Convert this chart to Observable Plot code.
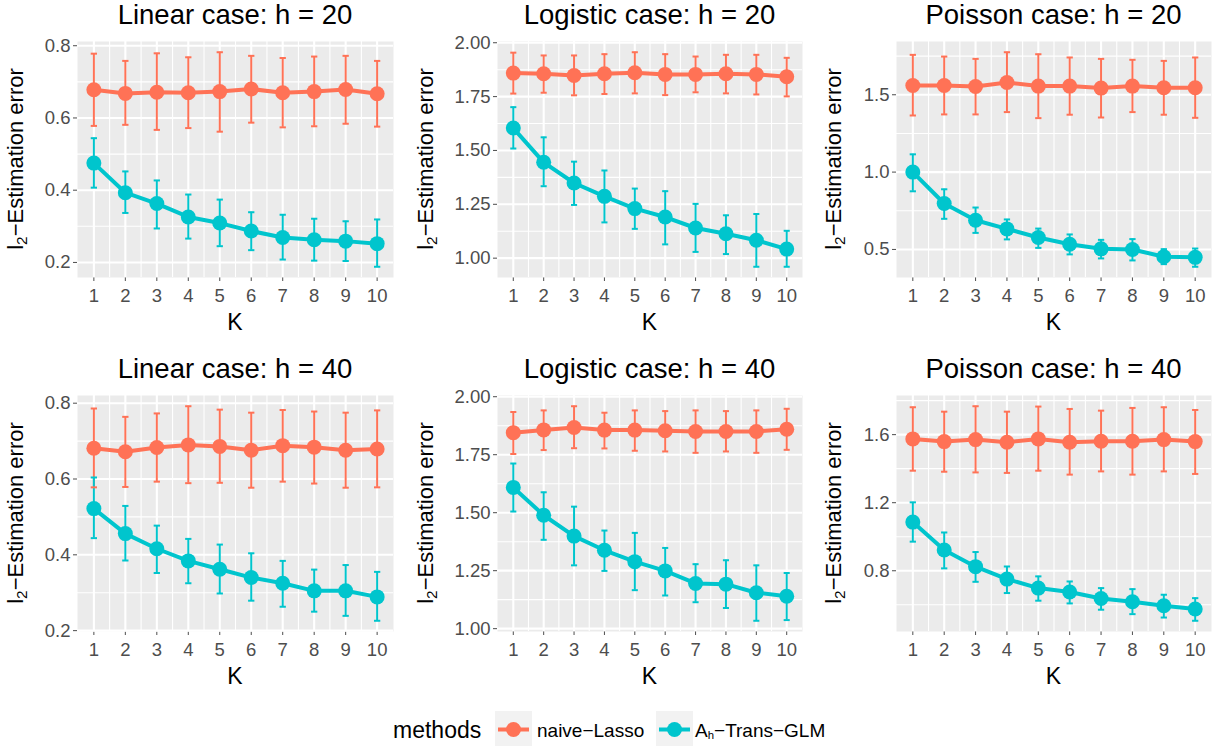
<!DOCTYPE html>
<html><head><meta charset="utf-8">
<script src="https://cdn.jsdelivr.net/npm/d3@7"></script>
<script src="https://cdn.jsdelivr.net/npm/@observablehq/plot@0.6"></script>
<style>
body{margin:0;background:#fff;font-family:"Liberation Sans",Arial,Helvetica,sans-serif;}
#root{position:relative;width:1215px;height:746px;overflow:hidden;background:#fff;}
.abs{position:absolute;white-space:nowrap;color:#000;line-height:1;}
.sub{font-size:0.7em;vertical-align:-0.28em;line-height:0;}
</style></head><body><div id="root"></div>
<script>
// ---------- data ----------
const K = [1, 2, 3, 4, 5, 6, 7, 8, 9, 10];
const methods = ["naive−Lasso", "Aₕ−Trans−GLM"];
const colors = ["#FF7256", "#00C5CD"];
const titles = ["Linear case: h = 20", "Logistic case: h = 20", "Poisson case: h = 20",
                "Linear case: h = 40", "Logistic case: h = 40", "Poisson case: h = 40"];
const linTicks = [0.2, 0.4, 0.6, 0.8];
const logTicks = [1.00, 1.25, 1.50, 1.75, 2.00];
const pois20Ticks = [0.5, 1.0, 1.5];
const pois40Ticks = [0.8, 1.2, 1.6];

const lin20NaiveMean = [0.678, 0.668, 0.671, 0.670, 0.673, 0.680, 0.670, 0.673, 0.679, 0.667];
const lin20NaiveLo   = [0.578, 0.581, 0.567, 0.572, 0.562, 0.587, 0.574, 0.577, 0.584, 0.576];
const lin20NaiveHi   = [0.778, 0.758, 0.779, 0.768, 0.782, 0.772, 0.766, 0.770, 0.772, 0.758];
const lin20TransMean = [0.475, 0.393, 0.363, 0.326, 0.309, 0.287, 0.269, 0.263, 0.259, 0.252];
const lin20TransLo   = [0.407, 0.337, 0.294, 0.266, 0.245, 0.234, 0.208, 0.205, 0.204, 0.188];
const lin20TransHi   = [0.544, 0.452, 0.427, 0.388, 0.374, 0.339, 0.332, 0.321, 0.314, 0.319];

const log20NaiveMean = [1.859, 1.856, 1.848, 1.856, 1.861, 1.853, 1.853, 1.856, 1.853, 1.842];
const log20NaiveLo   = [1.764, 1.768, 1.756, 1.762, 1.765, 1.757, 1.770, 1.765, 1.760, 1.751];
const log20NaiveHi   = [1.954, 1.941, 1.941, 1.947, 1.956, 1.947, 1.936, 1.944, 1.944, 1.930];
const log20TransMean = [1.604, 1.445, 1.349, 1.287, 1.230, 1.191, 1.140, 1.113, 1.083, 1.042];
const log20TransLo   = [1.509, 1.334, 1.247, 1.166, 1.136, 1.064, 1.029, 1.019, 0.960, 0.960];
const log20TransHi   = [1.701, 1.561, 1.448, 1.407, 1.323, 1.311, 1.252, 1.199, 1.205, 1.127];

const pois20NaiveMean = [1.560, 1.560, 1.553, 1.579, 1.556, 1.556, 1.543, 1.556, 1.545, 1.545];
const pois20NaiveLo   = [1.366, 1.373, 1.373, 1.388, 1.349, 1.371, 1.353, 1.388, 1.371, 1.351];
const pois20NaiveHi   = [1.758, 1.747, 1.732, 1.775, 1.762, 1.741, 1.732, 1.726, 1.719, 1.741];
const pois20TransMean = [1.000, 0.797, 0.689, 0.633, 0.577, 0.534, 0.504, 0.500, 0.453, 0.449];
const pois20TransLo   = [0.876, 0.698, 0.607, 0.565, 0.510, 0.468, 0.442, 0.429, 0.405, 0.388];
const pois20TransHi   = [1.115, 0.889, 0.771, 0.694, 0.635, 0.597, 0.562, 0.567, 0.502, 0.506];

const lin40NaiveMean = [0.681, 0.672, 0.683, 0.690, 0.686, 0.676, 0.688, 0.684, 0.676, 0.679];
const lin40NaiveLo   = [0.578, 0.579, 0.593, 0.589, 0.590, 0.577, 0.593, 0.588, 0.577, 0.578];
const lin40NaiveHi   = [0.786, 0.764, 0.773, 0.792, 0.783, 0.775, 0.782, 0.778, 0.775, 0.781];
const lin40TransMean = [0.522, 0.456, 0.416, 0.384, 0.362, 0.340, 0.325, 0.305, 0.305, 0.289];
const lin40TransLo   = [0.444, 0.385, 0.352, 0.325, 0.298, 0.279, 0.263, 0.250, 0.239, 0.226];
const lin40TransHi   = [0.604, 0.529, 0.477, 0.442, 0.427, 0.404, 0.384, 0.361, 0.373, 0.355];

const log40NaiveMean = [1.845, 1.857, 1.867, 1.856, 1.856, 1.853, 1.850, 1.850, 1.850, 1.860];
const log40NaiveLo   = [1.753, 1.770, 1.778, 1.777, 1.767, 1.764, 1.758, 1.764, 1.758, 1.771];
const log40NaiveHi   = [1.934, 1.941, 1.959, 1.931, 1.941, 1.938, 1.941, 1.938, 1.941, 1.948];
const log40TransMean = [1.609, 1.489, 1.399, 1.338, 1.289, 1.249, 1.195, 1.192, 1.155, 1.140];
const log40TransLo   = [1.505, 1.383, 1.273, 1.249, 1.166, 1.143, 1.114, 1.089, 1.034, 1.037];
const log40TransHi   = [1.712, 1.588, 1.526, 1.423, 1.413, 1.348, 1.278, 1.295, 1.273, 1.240];

const pois40NaiveMean = [1.575, 1.559, 1.571, 1.555, 1.575, 1.555, 1.561, 1.561, 1.571, 1.559];
const pois40NaiveLo   = [1.388, 1.382, 1.378, 1.375, 1.388, 1.365, 1.384, 1.365, 1.384, 1.369];
const pois40NaiveHi   = [1.761, 1.735, 1.767, 1.735, 1.765, 1.751, 1.741, 1.757, 1.761, 1.745];
const pois40TransMean = [1.086, 0.922, 0.824, 0.751, 0.698, 0.675, 0.637, 0.618, 0.594, 0.575];
const pois40TransLo   = [0.971, 0.814, 0.735, 0.669, 0.624, 0.608, 0.571, 0.545, 0.525, 0.506];
const pois40TransHi   = [1.202, 1.025, 0.910, 0.825, 0.767, 0.737, 0.698, 0.692, 0.659, 0.639];

// ---------- panel specs (built from the arrays) ----------
const panels = [
  {series: [[lin20NaiveMean, lin20NaiveLo, lin20NaiveHi], [lin20TransMean, lin20TransLo, lin20TransHi]], ticks: linTicks, fmt: ".1f"},
  {series: [[log20NaiveMean, log20NaiveLo, log20NaiveHi], [log20TransMean, log20TransLo, log20TransHi]], ticks: logTicks, fmt: ".2f"},
  {series: [[pois20NaiveMean, pois20NaiveLo, pois20NaiveHi], [pois20TransMean, pois20TransLo, pois20TransHi]], ticks: pois20Ticks, fmt: ".1f"},
  {series: [[lin40NaiveMean, lin40NaiveLo, lin40NaiveHi], [lin40TransMean, lin40TransLo, lin40TransHi]], ticks: linTicks, fmt: ".1f"},
  {series: [[log40NaiveMean, log40NaiveLo, log40NaiveHi], [log40TransMean, log40TransLo, log40TransHi]], ticks: logTicks, fmt: ".2f"},
  {series: [[pois40NaiveMean, pois40NaiveLo, pois40NaiveHi], [pois40TransMean, pois40TransLo, pois40TransHi]], ticks: pois40Ticks, fmt: ".1f"}
];

// ---------- layout ----------
const colLeft = [0, 405, 810];
const frameLeft = [77, 497, 896];
const frameRight = [393, 802, 1211];
const yLabelX = [16, 426, 834];
const rowTop = [0, 354];
const SVG_W = 405, SVG_H = 310, MT = 41, MB = 33;
const FONT = '"Liberation Sans", Arial, Helvetica, sans-serif';

const root = document.getElementById("root");
function addText(html, left, top, size, extra = "") {
  const d = document.createElement("div");
  d.className = "abs";
  d.style.cssText += `left:${left}px;top:${top}px;font-size:${size}px;${extra}`;
  d.innerHTML = html;
  root.appendChild(d);
  return d;
}

panels.forEach((p, idx) => {
  const col = idx % 3, row = Math.floor(idx / 3);
  const rows = [];
  p.series.forEach(([mean, lo, hi], mi) => {
    K.forEach((k, i) => rows.push({K: k, method: methods[mi], mean: mean[i], lo: lo[i], hi: hi[i]}));
  });
  const lo = d3.min(rows, d => d.lo), hi = d3.max(rows, d => d.hi);
  const pad = (hi - lo) * 0.05;
  const dom = [lo - pad, hi + pad];
  const step = p.ticks[1] - p.ticks[0];
  const minorY = [];
  for (let v = p.ticks[0] - step / 2; v < dom[1]; v += step) if (v > dom[0]) minorY.push(v);
  const minorX = K.slice(0, -1).map(k => k + 0.5);

  const chart = Plot.plot({
    width: SVG_W, height: SVG_H,
    marginLeft: frameLeft[col] - colLeft[col],
    marginRight: colLeft[col] + SVG_W - frameRight[col],
    marginTop: MT, marginBottom: MB,
    style: {fontFamily: FONT, fontSize: "18.5px", color: "#4D4D4D", background: "transparent", overflow: "visible"},
    x: {domain: [0.48, 10.52], ticks: K, tickFormat: d => String(d), tickSize: 4, tickPadding: 7, label: null},
    y: {domain: dom, ticks: p.ticks, tickFormat: d3.format(p.fmt), tickSize: 4, tickPadding: 3, label: null},
    color: {domain: methods, range: colors},
    marks: [
      Plot.frame({fill: "#EBEBEB", stroke: "none"}),
      Plot.ruleY(minorY, {stroke: "white", strokeWidth: 1.1}),
      Plot.ruleX(minorX, {stroke: "white", strokeWidth: 1.1}),
      Plot.ruleY(p.ticks, {stroke: "white", strokeWidth: 2.1}),
      Plot.ruleX(K, {stroke: "white", strokeWidth: 2.1}),
      Plot.ruleX(rows, {x: "K", y1: "lo", y2: "hi", stroke: "method", strokeWidth: 2}),
      Plot.link(rows, {x1: d => d.K - 0.1, x2: d => d.K + 0.1, y1: "hi", y2: "hi", stroke: "method", strokeWidth: 2}),
      Plot.link(rows, {x1: d => d.K - 0.1, x2: d => d.K + 0.1, y1: "lo", y2: "lo", stroke: "method", strokeWidth: 2}),
      Plot.line(rows, {x: "K", y: "mean", z: "method", stroke: "method", strokeWidth: 4}),
      Plot.dot(rows, {x: "K", y: "mean", fill: "method", r: 7.5})
    ]
  });
  chart.style.position = "absolute";
  chart.style.left = colLeft[col] + "px";
  chart.style.top = rowTop[row] + "px";
  root.appendChild(chart);

  const cx = (frameLeft[col] + frameRight[col]) / 2;
  addText(titles[idx], cx, rowTop[row] + 14.5, 27.5, "transform:translate(-50%,-50%);");
  addText("K", cx, rowTop[row] + 322, 23, "transform:translate(-50%,-50%);");
  addText('l<span class="sub">2</span>−Estimation error', yLabelX[col], rowTop[row] + (MT + SVG_H - MB) / 2, 22,
          "transform:translate(-50%,-50%) rotate(-90deg);");
});

// ---------- legend ----------
addText("methods", 393, 730, 23, "transform:translateY(-50%);");
const keyLeft = [495, 656];
const labelLeft = [537, 695];
const legendLabels = ["naive−Lasso", 'A<span class="sub" style="font-size:0.6em;vertical-align:-0.2em">h</span>−Trans−GLM'];
methods.forEach((m, i) => {
  const box = d3.create("svg").attr("width", 37).attr("height", 37)
    .style("position", "absolute").style("left", keyLeft[i] + "px").style("top", "711px");
  box.append("rect").attr("width", 37).attr("height", 37).attr("fill", "#F2F2F2");
  box.append("line").attr("x1", 3).attr("x2", 34).attr("y1", 18.5).attr("y2", 18.5)
    .attr("stroke", colors[i]).attr("stroke-width", 4);
  box.append("circle").attr("cx", 18.5).attr("cy", 18.5).attr("r", 7.5).attr("fill", colors[i]);
  root.appendChild(box.node());
  addText(legendLabels[i], labelLeft[i], 730, 19, "transform:translateY(-50%);");
});
</script></body></html>
